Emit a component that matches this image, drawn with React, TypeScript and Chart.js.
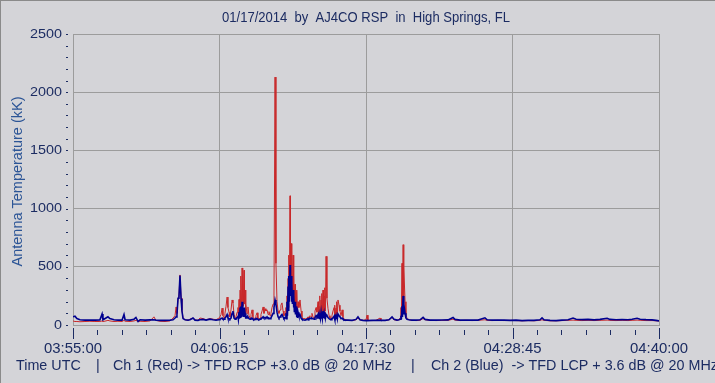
import { useEffect, useRef } from 'react';
import { Chart, registerables } from 'chart.js';

Chart.register(...registerables);

// Seconds after 03:55:00 UTC
const timeSec = [
  0, 9, 18, 32, 55, 78, 101, 124, 134, 138,
  152, 161, 170, 189, 207, 226, 235, 240, 263, 281,
  290, 300, 309, 332, 355, 373, 382, 401, 424, 447,
  461, 470, 475, 479, 484, 488, 493, 498, 502, 507,
  516, 530, 539, 553, 562, 576, 585, 599, 613, 631,
  645, 659, 673,
  677, 682, 687, 691, 696, 700, 705, 710, 714, 719,
  723, 728, 733, 737, 742, 747, 751, 756,
  760, 762, 765, 767, 770, 772, 774, 776, 779, 781,
  783, 785, 788, 790, 793, 795, 797, 802, 806, 811,
  816, 820, 825, 829, 834, 839, 843, 848, 852, 857,
  862, 866, 871, 876, 880, 885, 889, 894, 899, 903,
  908, 912, 917, 922, 926, 931, 935, 940, 945, 949,
  954, 958, 963, 968, 972, 977,
  981, 983, 986, 988, 991, 993, 995, 997, 1000, 1002,
  1005, 1007, 1009, 1011, 1014, 1016, 1018, 1020, 1023, 1025,
  1028, 1030, 1032, 1034, 1037, 1041, 1046, 1051,
  1055, 1060, 1064, 1069, 1074, 1078, 1083, 1087, 1092, 1097,
  1101, 1106, 1111, 1115, 1120, 1124,
  1129, 1131, 1134, 1136, 1138, 1140, 1143, 1145, 1147, 1149,
  1152, 1154, 1157, 1159, 1161, 1163, 1166, 1170, 1175, 1180,
  1184, 1189, 1193, 1198,
  1203, 1205, 1207, 1209, 1212, 1214, 1216, 1218, 1221, 1226,
  1230, 1235, 1240, 1244, 1249, 1253,
  1267, 1286, 1304, 1313, 1322, 1336, 1350, 1355, 1359, 1378,
  1396, 1415, 1419, 1438, 1456, 1470, 1479, 1493, 1502, 1507,
  1511, 1513, 1516, 1518, 1521, 1523, 1525, 1530, 1534, 1539,
  1548, 1562, 1581, 1599, 1613, 1622, 1645, 1673, 1700, 1728,
  1751, 1760, 1783, 1811, 1839, 1866, 1898, 1908, 1931, 1958,
  1986, 2014, 2041, 2069, 2097, 2124, 2152, 2161, 2170, 2198,
  2226, 2253, 2281, 2304, 2318, 2345, 2373, 2401, 2428, 2461,
  2474, 2502, 2530, 2557, 2576, 2599, 2613, 2640, 2668, 2686, 2700,
];

// Ch 1 (Red) antenna temperature, kK
const ch1Red = [
  35, 30, 30, 28, 30, 32, 30, 30, 35, 30,
  35, 40, 35, 30, 32, 30, 40, 32, 30, 35,
  40, 30, 32, 30, 35, 70, 40, 32, 30, 35,
  60, 80, 155, 100, 230, 240, 430, 230, 130, 60,
  45, 40, 50, 60, 45, 40, 60, 55, 45, 55,
  50, 45, 60,
  70, 90, 145, 80, 60, 100, 160, 240, 150, 110,
  70, 130, 215, 190, 90, 60, 70, 110,
  150, 70, 220, 90, 300, 110, 420, 150, 490, 200,
  455, 160, 470, 180, 300, 90, 180, 100, 155, 80,
  60, 90, 130, 70, 55, 60, 80, 105, 60, 50,
  60, 90, 120, 155, 100, 140, 120, 130, 90, 115,
  80, 100, 150, 180, 250, 2130, 530, 200, 120, 100,
  130, 170, 190, 120, 80, 100,
  150, 80, 250, 110, 400, 150, 600, 250, 1110, 300,
  700, 250, 640, 220, 600, 200, 430, 160, 350, 130,
  280, 110, 300, 100, 200, 150, 215, 120,
  70, 55, 60, 50, 55, 60, 70, 60, 80, 70,
  100, 70, 60, 120, 150, 110,
  200, 80, 160, 70, 250, 90, 215, 80, 270, 100,
  300, 110, 250, 90, 320, 120, 590, 230, 140, 80,
  60, 55, 80, 120,
  150, 70, 170, 80, 145, 70, 200, 80, 215, 170,
  120, 80, 130, 70, 50, 45,
  40, 38, 45, 60, 45, 40, 45, 85, 40, 38,
  40, 60, 40, 38, 45, 65, 45, 40, 45, 60,
  150, 70, 530, 120, 690, 150, 500, 200, 90, 55,
  45, 40, 38, 40, 55, 45, 40, 38, 40, 40,
  50, 42, 38, 40, 38, 40, 45, 40, 38, 40,
  38, 40, 38, 36, 38, 36, 40, 45, 40, 36,
  36, 38, 40, 42, 40, 38, 40, 38, 40, 42,
  40, 38, 40, 38, 40, 42, 40, 38, 38, 36, 35,
];

// Ch 2 (Blue) antenna temperature, kK
const ch2Blue = [
  70, 75, 55, 45, 42, 43, 42, 44, 95, 45,
  60, 70, 55, 45, 42, 42, 90, 45, 42, 50,
  65, 30, 45, 42, 44, 45, 42, 40, 40, 42,
  45, 60, 70, 90, 230, 235, 425, 225, 120, 55,
  45, 42, 45, 60, 42, 40, 45, 48, 42, 50,
  45, 42, 45,
  50, 55, 60, 50, 50, 60, 70, 90, 60, 55,
  50, 60, 100, 120, 60, 50, 55, 65,
  80, 50, 110, 55, 150, 60, 160, 70, 200, 80,
  120, 70, 150, 70, 100, 55, 80, 60, 70, 55,
  50, 55, 60, 50, 45, 48, 55, 55, 48, 45,
  50, 55, 60, 70, 60, 65, 60, 70, 55, 60,
  55, 60, 80, 100, 150, 215, 180, 110, 70, 60,
  70, 80, 90, 70, 55, 60,
  100, 55, 200, 80, 330, 120, 420, 200, 515, 250,
  420, 200, 360, 180, 300, 150, 250, 110, 200, 90,
  160, 70, 150, 60, 110, 80, 90, 60,
  50, 45, 45, 42, 45, 50, 55, 50, 60, 55,
  60, 55, 50, 65, 80, 70,
  90, 55, 90, 50, 100, 60, 110, 55, 110, 60,
  120, 60, 100, 55, 110, 60, 90, 80, 65, 55,
  50, 45, 55, 60,
  75, 50, 90, 55, 80, 50, 90, 55, 95, 80,
  70, 55, 60, 50, 45, 42,
  42, 40, 48, 70, 45, 40, 38, 40, 38, 40,
  40, 42, 40, 40, 45, 70, 50, 42, 45, 50,
  80, 50, 160, 70, 250, 90, 180, 100, 60, 50,
  45, 42, 42, 45, 65, 48, 42, 42, 43, 44,
  65, 48, 42, 42, 43, 42, 62, 45, 42, 43,
  42, 40, 42, 38, 40, 40, 45, 62, 45, 40,
  38, 42, 45, 60, 50, 46, 48, 44, 48, 58,
  48, 45, 46, 45, 50, 58, 50, 46, 44, 40, 35,
];

const xTickValues = [0, 675, 1350, 2025, 2700];
const xTickLabels = ['03:55:00', '04:06:15', '04:17:30', '04:28:45', '04:40:00'];
const xMinorStep = 112.5;
const yTickValues = [0, 500, 1000, 1500, 2000, 2500];
const yTickLabels = ['0', '500', '1000', '1500', '2000', '2500'];
const yMinorStep = 100;

const titleText = '01/17/2014  by  AJ4CO RSP  in  High Springs, FL';
const yTitleText = 'Antenna Temperature (kK)';
const footerParts = [
  'Time UTC',
  '|',
  'Ch 1 (Red) -> TFD RCP +3.0 dB @ 20 MHz',
  '|',
  'Ch 2 (Blue)  -> TFD LCP + 3.6 dB @ 20 MHz',
];

const BG = '#d4d4d8';
const GRID = '#9c9c9c';
const RED = '#c8282a';
const BLUE = '#00008f';
const TEXT = '#1c2c62';
const YTITLE = '#2c5596';
const FONT = "'Liberation Sans', Arial, sans-serif";

function fitText(ctx: any, text: string, x: number, y: number, sx: number, align: string) {
  ctx.save();
  ctx.translate(x, y);
  ctx.scale(sx, 1);
  ctx.textAlign = align;
  ctx.fillText(text, 0, 0);
  ctx.restore();
}

const decor = {
  id: 'decor',
  beforeDraw(chart: any) {
    const { ctx, width, height } = chart;
    ctx.save();
    ctx.fillStyle = BG;
    ctx.fillRect(0, 0, width, height);
    ctx.strokeStyle = '#8a8a8a';
    ctx.lineWidth = 2;
    ctx.beginPath();
    ctx.moveTo(0, height);
    ctx.lineTo(0, 0);
    ctx.lineTo(width, 0);
    ctx.stroke();
    ctx.restore();
  },
  beforeDatasetsDraw(chart: any) {
    const { ctx, chartArea } = chart;
    const { left, top, right, bottom } = chartArea;
    ctx.save();
    ctx.strokeStyle = GRID;
    ctx.lineWidth = 1;
    ctx.strokeRect(left + 0.5, top + 0.5, right - left, bottom - top);
    ctx.restore();
  },
  afterDraw(chart: any) {
    const { ctx, chartArea } = chart;
    const { left, top, right, bottom } = chartArea;
    const xs = chart.scales.x;
    const ys = chart.scales.y;
    ctx.save();
    ctx.strokeStyle = TEXT;
    ctx.lineWidth = 1;
    for (let v = xs.min; v <= xs.max + 1e-6; v += xMinorStep) {
      const px = Math.round(xs.getPixelForValue(v)) + 0.5;
      const major = xTickValues.some((t) => Math.abs(t - v) < 1e-6);
      ctx.beginPath();
      ctx.moveTo(px, bottom + (major ? 3 : 5));
      ctx.lineTo(px, bottom + (major ? 14 : 10));
      ctx.stroke();
    }
    for (let v = ys.min; v <= ys.max + 1e-6; v += yMinorStep) {
      const py = Math.round(ys.getPixelForValue(v)) + 0.5;
      ctx.beginPath();
      ctx.moveTo(left - 7, py);
      ctx.lineTo(left - 5, py);
      ctx.stroke();
    }
    ctx.fillStyle = TEXT;
    ctx.textBaseline = 'middle';

    // x tick labels
    ctx.font = `14px ${FONT}`;
    const sxX = 58 / ctx.measureText(xTickLabels[0]).width;
    xTickValues.forEach((v, i) => {
      fitText(ctx, xTickLabels[i], xs.getPixelForValue(v), bottom + 24, sxX, 'center');
    });

    // y tick labels
    ctx.font = `13px ${FONT}`;
    const sxY = 32 / ctx.measureText(yTickLabels[yTickLabels.length - 1]).width;
    yTickValues.forEach((v, i) => {
      fitText(ctx, yTickLabels[i], left - 11, ys.getPixelForValue(v), sxY, 'right');
    });

    // footer (x-axis title)
    ctx.font = `15px ${FONT}`;
    const sxF = 279 / ctx.measureText(footerParts[2]).width;
    const footerX = [16, 96, 113, 411, 431];
    footerParts.forEach((t, i) => fitText(ctx, t, footerX[i], bottom + 41, sxF, 'left'));

    // y-axis title
    ctx.font = `14px ${FONT}`;
    const sxT = 170 / ctx.measureText(yTitleText).width;
    ctx.save();
    ctx.fillStyle = YTITLE;
    ctx.translate(18, (top + bottom) / 2 + 2);
    ctx.rotate(-Math.PI / 2);
    fitText(ctx, yTitleText, 0, 0, sxT, 'center');
    ctx.restore();

    // title
    ctx.font = `15px ${FONT}`;
    const sxH = 288 / ctx.measureText(titleText).width;
    fitText(ctx, titleText, (left + right) / 2, 18, sxH, 'center');
    ctx.restore();
  },
};

export default function App() {
  const ref = useRef<HTMLCanvasElement | null>(null);
  useEffect(() => {
    if (!ref.current) return;
    const chart = new Chart(ref.current, {
      type: 'line',
      data: {
        datasets: [
          {
            label: 'Ch 2 (Blue)',
            data: timeSec.map((t, i) => ({ x: t, y: ch2Blue[i] })),
            borderColor: BLUE,
            borderWidth: 1.6,
            pointRadius: 0,
            tension: 0,
            order: 0,
          },
          {
            label: 'Ch 1 (Red)',
            data: timeSec.map((t, i) => ({ x: t, y: ch1Red[i] })),
            borderColor: RED,
            borderWidth: 1,
            pointRadius: 0,
            tension: 0,
            order: 1,
          },
        ],
      },
      options: {
        responsive: false,
        animation: false,
        layout: { padding: { top: 34, right: 56, left: 0, bottom: 0 } },
        plugins: {
          legend: { display: false },
          tooltip: { enabled: false },
          title: { display: false },
        },
        scales: {
          x: {
            type: 'linear',
            min: 0,
            max: 2700,
            afterFit: (s: any) => {
              s.height = 58;
            },
            ticks: { display: false, stepSize: 675 },
            grid: { drawTicks: false, color: GRID, lineWidth: 1 },
            border: { display: false },
          },
          y: {
            min: 0,
            max: 2500,
            afterFit: (s: any) => {
              s.width = 73;
            },
            ticks: { display: false, stepSize: 500 },
            grid: { drawTicks: false, color: GRID, lineWidth: 1 },
            border: { display: false },
          },
        },
      },
      plugins: [decor],
    } as any);
    return () => chart.destroy();
  }, []);
  return (
    <div style={{ position: 'absolute', left: 0, top: 0, width: 715, height: 383, background: BG }}>
      <canvas ref={ref} width={715} height={383} style={{ display: 'block', width: 715, height: 383 }} />
    </div>
  );
}
